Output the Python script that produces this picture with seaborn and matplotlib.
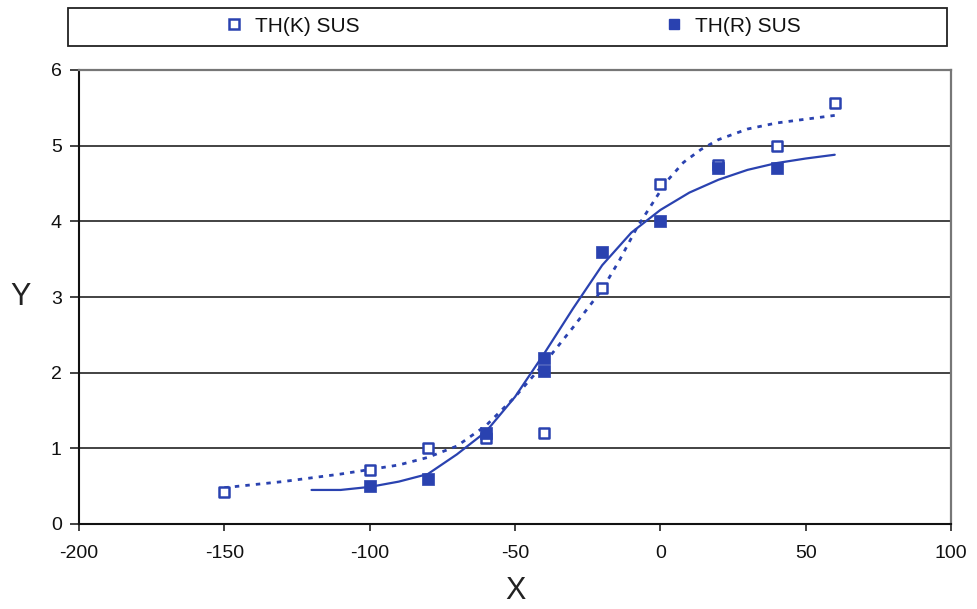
import matplotlib
matplotlib.use("Agg")
import matplotlib.pyplot as plt
from matplotlib.lines import Line2D
from matplotlib.patches import Rectangle
import numpy as np
import pandas as pd
import seaborn as sns

# Measured points
k_x = [-150, -100, -80, -60, -40, -20, 0, 20, 40, 60]
k_y = [0.42, 0.71, 1.0, 1.13, 1.2, 3.12, 4.5, 4.75, 5.0, 5.56]

r_x = [-100, -80, -60, -40, -40, -20, 0, 20, 40]
r_y = [0.5, 0.6, 1.2, 2.2, 2.02, 3.6, 4.0, 4.7, 4.7]

# Fitted curves
k_fit_x = [-150, -130, -110, -90, -80, -70, -60, -50, -40, -30, -20, -14, -8,
           -2, 2, 8, 14, 20, 30, 40, 50, 60]
k_fit_y = [0.48, 0.56, 0.66, 0.78, 0.88, 1.03, 1.3, 1.68, 2.12, 2.6, 3.1, 3.49,
           3.92, 4.28, 4.52, 4.78, 4.95, 5.08, 5.22, 5.3, 5.35, 5.4]

r_fit_x = [-120, -110, -100, -90, -80, -70, -60, -50, -40, -30, -20, -10, 0,
           10, 20, 30, 40, 50, 60]
r_fit_y = [0.45, 0.45, 0.49, 0.56, 0.66, 0.92, 1.22, 1.68, 2.25, 2.85, 3.42,
           3.85, 4.15, 4.38, 4.55, 4.68, 4.77, 4.83, 4.88]

x_ticks = [-200, -150, -100, -50, 0, 50, 100]
y_ticks = [0, 1, 2, 3, 4, 5, 6]

blue = "#2a42b0"

sns.set_style("white")
plt.rcParams["font.family"] = ["Liberation Sans", "DejaVu Sans"]

fig = plt.figure(figsize=(9.77, 6.09), dpi=100)
ax = fig.add_axes([79 / 977, 1 - 524 / 609, 872 / 977, 454 / 609])

k_fit = pd.DataFrame({"x": k_fit_x, "y": k_fit_y})
r_fit = pd.DataFrame({"x": r_fit_x, "y": r_fit_y})
k_pts = pd.DataFrame({"x": k_x, "y": k_y})
r_pts = pd.DataFrame({"x": r_x, "y": r_y})

sns.lineplot(data=k_fit, x="x", y="y", ax=ax, color=blue, lw=2.0,
             linestyle=(0, (1.6, 2.2)), sort=False, zorder=3)
sns.lineplot(data=r_fit, x="x", y="y", ax=ax, color=blue, lw=1.6,
             sort=False, zorder=3)
sns.scatterplot(data=k_pts, x="x", y="y", ax=ax, marker="s", s=60,
                facecolor="white", edgecolor=blue, linewidth=1.8, zorder=4)
sns.scatterplot(data=r_pts, x="x", y="y", ax=ax, marker="s", s=80,
                color=blue, edgecolor=blue, linewidth=0.5, zorder=5)

ax.set_xlim(-200, 100)
ax.set_ylim(0, 6)
ax.set_xticks(x_ticks)
ax.set_yticks(y_ticks)
ax.set_xticklabels([str(v) for v in x_ticks])
ax.set_yticklabels([str(v) for v in y_ticks])
ax.tick_params(axis="both", direction="out", width=1.2,
               color="#222222", labelsize=14, labelcolor="#111111")
ax.tick_params(axis="x", bottom=True, length=5, pad=10)
ax.tick_params(axis="y", left=True, length=6.5, pad=6)

for yv in y_ticks[1:-1]:
    ax.axhline(yv, color="#222222", lw=1.2, zorder=1)

ax.spines["left"].set_color("#111111")
ax.spines["bottom"].set_color("#111111")
ax.spines["left"].set_linewidth(1.5)
ax.spines["bottom"].set_linewidth(1.5)
ax.spines["top"].set_color("#777777")
ax.spines["right"].set_color("#777777")
ax.spines["top"].set_linewidth(1.6)
ax.spines["right"].set_linewidth(1.6)

ax.set_xlabel("X", fontsize=22, color="#222222")
ax.set_ylabel("Y", fontsize=22, color="#222222", rotation=0)
ax.xaxis.set_label_coords(0.5, -0.148)
ax.xaxis.label.set_verticalalignment("center")
ax.yaxis.set_label_coords(-0.0665, 0.5)
ax.yaxis.label.set_verticalalignment("center")
ax.yaxis.label.set_horizontalalignment("center")

# Legend band above the plot
fig.patches.append(Rectangle((68 / 977, 1 - 46 / 609), 879 / 977, 38 / 609,
                             transform=fig.transFigure, fill=False,
                             edgecolor="#222222", lw=1.3))
handles = [
    Line2D([], [], linestyle="none", marker="s", markersize=6.5,
           markerfacecolor="white", markeredgecolor=blue, markeredgewidth=1.8),
    Line2D([], [], linestyle="none", marker="s", markersize=7,
           markerfacecolor=blue, markeredgecolor=blue),
]
fig.legend(handles, ["TH(K) SUS", "TH(R) SUS"], loc="center",
           bbox_to_anchor=(513 / 977, 1 - 26 / 609), ncol=2, frameon=False,
           fontsize=15, handlelength=0.8, handletextpad=0.6,
           columnspacing=14.7, labelcolor="#111111")

fig.savefig("out.png", dpi=100)
